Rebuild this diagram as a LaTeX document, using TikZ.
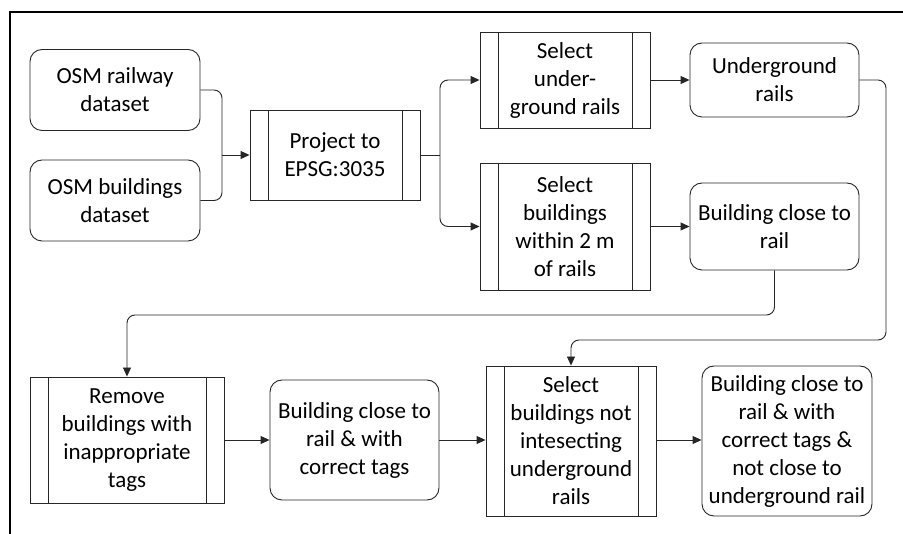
\documentclass[tikz,border=0pt]{standalone}
\usepackage{fontspec}
\setmainfont{Carlito}
\usetikzlibrary{arrows.meta}
\begin{document}
\begin{tikzpicture}[x=1pt,y=-1pt,
  every node/.style={font=\fontsize{23}{28}\selectfont, align=center, inner sep=0pt},
  datab/.style={draw=black!85, line width=0.9pt, rounded corners=12pt},
  procb/.style={draw=black!85, line width=0.9pt,
    path picture={
      \draw[black!85, line width=0.9pt] ([xshift=18pt]path picture bounding box.north west) -- ([xshift=18pt]path picture bounding box.south west);
      \draw[black!85, line width=0.9pt] ([xshift=-18pt]path picture bounding box.north east) -- ([xshift=-18pt]path picture bounding box.south east);}},
  conn/.style={draw=black!85, line width=0.9pt, rounded corners=8pt, -{Triangle[length=9pt,width=8pt]}},
  line/.style={draw=black!85, line width=0.9pt, rounded corners=8pt}
]
\useasboundingbox (0,0) rectangle (903,534);
\draw[line width=1.4pt] (10,534) -- (10,12) -- (903,12);

\node[datab, minimum width=170pt, minimum height=81pt] (rail) at (115,90) {OSM railway\\dataset};
\node[datab, minimum width=170pt, minimum height=81pt] (bld) at (115,200.5) {OSM buildings\\dataset};
\node[procb, minimum width=170pt, minimum height=90pt] (proj) at (335,155) {Project to\\EPSG:3035};
\node[procb, minimum width=170pt, minimum height=96pt] (selU) at (565,80) {Select\\under-\\ground rails};
\node[datab, minimum width=169pt, minimum height=74pt] (ugr) at (774.5,80) {Underground\\rails};
\node[procb, minimum width=170pt, minimum height=127pt] (selB) at (565,226.5) {Select\\buildings\\within 2 m\\of rails};
\node[datab, minimum width=169pt, minimum height=87pt] (bcr) at (774.5,226.5) {Building close to\\rail};
\node[procb, minimum width=194pt, minimum height=126pt] (rem) at (127,440) {Remove\\buildings with\\inappropriate\\tags};
\node[datab, minimum width=169pt, minimum height=120pt] (bct) at (354.5,440) {Building close to\\rail \& with\\correct tags};
\node[procb, minimum width=170pt, minimum height=150pt] (selN) at (571,441) {Select\\buildings not\\intesecting\\underground\\rails};
\node[datab, minimum width=170pt, minimum height=150pt] (fin) at (787,441) {Building close to\\rail \& with\\correct tags \&\\not close to\\underground rail};

\coordinate (j1) at (222,155);
\coordinate (j2) at (440,155);

\draw[line] (rail.east) -| (j1);
\draw[line] (bld.east) -| (j1);
\draw[conn] (j1) -- (proj.west);
\draw[line] (proj.east) -- (j2);
\draw[conn] (j2) |- (selU.west);
\draw[conn] (j2) |- (selB.west);
\draw[conn] (selU.east) -- (ugr.west);
\draw[conn] (selB.east) -- (bcr.west);
\draw[conn] (ugr.east) -| (886,340) -| (selN.north);
\draw[conn] (bcr.south) -- (774.5,315) -| (rem.north);
\draw[conn] (rem.east) -- (bct.west);
\draw[conn] (bct.east) -- (selN.west |- bct.east);
\draw[conn] (selN.east |- bct.east) -- (fin.west |- bct.east);
\end{tikzpicture}
\end{document}
